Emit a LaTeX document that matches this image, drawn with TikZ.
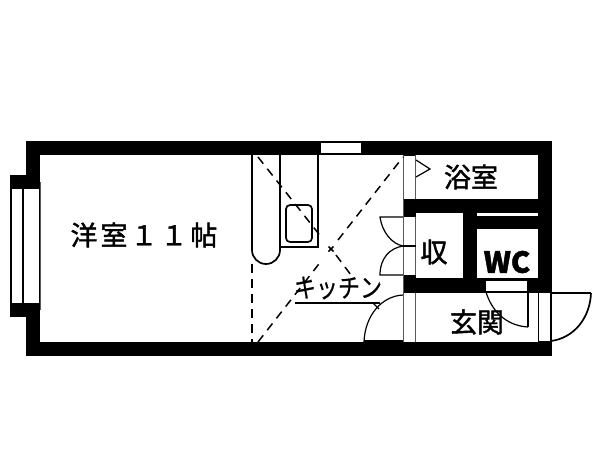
\documentclass[tikz,border=0pt]{standalone}
\usepackage{fontspec}
\setmainfont[FakeBold=1.5]{Noto Sans CJK JP}
\newfontfamily\widefont[FakeBold=1.5,LetterSpace=11]{Noto Sans CJK JP}
\newfontfamily\plainfont[FakeBold=0.4]{Noto Sans CJK JP}
\tikzset{x=1pt,y=-1pt}
\begin{document}
\begin{tikzpicture}
    [ wall/.style = {fill=black, draw=none},
      room/.style = {fill=white, draw=none},
      fitting/.style = {draw=black, line width=1.7pt},
      thin-line/.style = {draw=black, line width=1.2pt},
      grey-line/.style = {draw=black!65, line width=1pt},
      ceiling/.style = {draw=black, line width=1.5pt, dash pattern=on 8.5pt off 6.5pt},
      label-txt/.style = {inner sep=0pt, font=\fontsize{27}{27}\selectfont}]
      \useasboundingbox (0,0) rectangle (600,464);
      \fill [white] (0,0) rectangle (600,464);
      % walls
      \path [wall] (26,141) rectangle (552,356);
      \path [wall] (10,175) rectangle (40,317);
      % rooms
      \path [room] (40,155) rectangle (403,342);
      \path [room] (416,155) rectangle (538,199);
      \path [room] (416,213) rectangle (463,278);
      \path [room] (477,229) rectangle (538,278);
      \path [room] (477,213) rectangle (538,216);
      \path [room] (416,293) rectangle (538,342);
      \path [room] (486,281) rectangle (527,293);
      % windows
      \path [room] (12,189) rectangle (22,303);
      \path [room] (24,189) rectangle (39,303);
      \path [room] (321,143) rectangle (361,153);
      \path [room] (404,156) rectangle (415,199);
      \path [room] (404,217) rectangle (415,275);
      \path [room] (404,293) rectangle (415,342);
      \path [room] (539,293) rectangle (550,341);
      % strips
      \draw [grey-line] (40,182) -- (40,310);
      \draw [grey-line] (403.5,155) -- (403.5,342);
      \draw [grey-line] (415.5,155) -- (415.5,199);
      \draw [grey-line] (415.5,217) -- (415.5,275);
      \draw [grey-line] (415.5,293) -- (415.5,342);
      \draw [thin-line] (403,246) -- (416,246);
      % kitchen counter
      \draw [fitting] (252,155) -- (252,250) arc [start angle=180, end angle=0, radius=14] -- (280,155);
      \draw [fitting] (280,247) -- (318,247) -- (318,155);
      \draw [fitting, rounded corners=4pt] (286,205) rectangle (312,242);
      % ceiling lines
      \coordinate (cross) at (331,249);
      \draw [ceiling] (252,264) -- (252,342);
      \draw [ceiling] (258,157) -- (322,238);
      \draw [ceiling] (336,255) -- (351,275);
      \draw [ceiling] (258,342) -- (322,260);
      \draw [ceiling] (338,240) -- (403,157);
      \draw [fitting] (328.5,246.5) -- (333.5,251.5) (333.5,246.5) -- (328.5,251.5);
      % doors
      \draw [thin-line] (403,217) -- (380,217) .. controls (382,232) and (392,244) .. (403,246);
      \draw [thin-line] (403,246) .. controls (390,248) and (380,258) .. (380,275) -- (403,275);
      \draw [thin-line] (403,295) .. controls (382,296) and (365,315) .. (364,342);
      \draw [thin-line] (364,341) -- (403,341);
      \draw [thin-line] (416,160) -- (430,169) -- (416,177);
      \draw [thin-line] (486,292) -- (528,292) -- (528,327);
      \draw [thin-line] (528,327) .. controls (510,326) and (493,315) .. (486,292);
      \draw [fitting] (551,341) -- (551,293) -- (591,293);
      \draw [fitting] (551,341) .. controls (574,338) and (590,318) .. (591,293);
      % kitchen leader
      \draw [fitting] (295,303) -- (380,303);
      \draw [thin-line] (373,303) -- (379,309);
      % labels
      \node [label-txt] (western) at (144,235) {\widefont 洋室１１帖};
      \node [label-txt] (kitchen) at (338,288) {\fontsize{22}{22}\selectfont\plainfont\scalebox{1}[1.2]{キッチン}};
      \node [label-txt] (bath) at (471,177) {浴室};
      \node [label-txt] (storage) at (434,252) {収};
      \node [label-txt] (toilet) at (507,262) {\fontsize{29}{29}\selectfont\bfseries WC};
      \node [label-txt] (entry) at (477,322) {玄関};
  \end{tikzpicture}
\end{document}
